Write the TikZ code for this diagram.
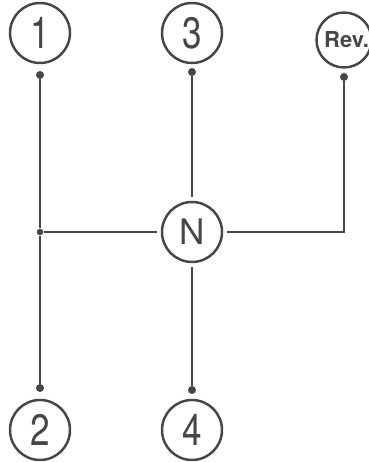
\documentclass[tikz,border=0pt]{standalone}
\usepackage{fontspec}
\setsansfont{TeX Gyre Heros}
\newfontfamily\gearfont[FakeStretch=0.8]{TeX Gyre Heros}
\usetikzlibrary{positioning}
\definecolor{ink}{RGB}{70,70,70}

\begin{document}
\begin{tikzpicture}[
    gear/.style={circle, draw=ink, line width=1.4pt, minimum size=1.2cm, inner sep=0pt, text=ink, font=\gearfont\fontsize{25}{25}\selectfont},
    pin/.style={circle, fill=ink, inner sep=0pt, minimum size=0.16cm},
    rod/.style={draw=ink, line width=1.4pt},
]
    \useasboundingbox (0,0) rectangle (7.36,9.24);

    \node[gear] (g1) at (0.80, 8.58) {1};
    \node[gear] (g3) at (3.84, 8.58) {3};
    \node[gear, minimum size=1.1cm, font=\sffamily\bfseries\fontsize{12.5}{12.5}\selectfont] (rev) at (6.88, 8.44) {\hspace*{3pt}Rev.};
    \node[gear, outer sep=3pt, font=\sffamily\fontsize{20}{20}\selectfont] (neutral) at (3.84, 4.60) {N};
    \node[gear] (g2) at (0.80, 0.64) {2};
    \node[gear] (g4) at (3.84, 0.64) {4};

    \node[pin] (p1) at (0.80, 7.74) {};
    \node[pin] (p3) at (3.84, 7.80) {};
    \node[pin] (prev) at (6.88, 7.70) {};
    \node[pin] (p2) at (0.80, 1.48) {};
    \node[pin] (p4) at (3.84, 1.44) {};
    \node[pin, minimum size=0.13cm] (joint) at (0.80, 4.60) {};
    \coordinate (corner) at (6.88, 4.60);

    \draw[rod] (p1) -- (joint) -- (p2);
    \draw[rod] (joint) -- (neutral);
    \draw[rod] (p3) -- (neutral);
    \draw[rod] (neutral) -- (p4);
    \draw[rod] (neutral) -- (corner) -- (prev);
\end{tikzpicture}
\end{document}
